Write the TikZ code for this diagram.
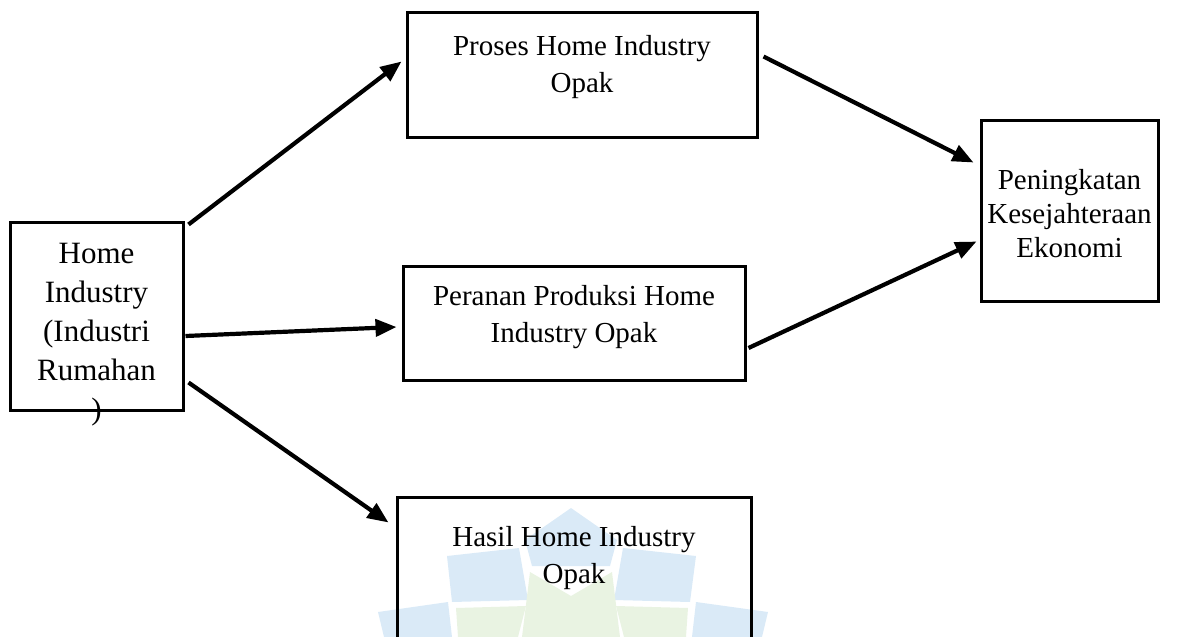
\documentclass[tikz,border=0pt]{standalone}
\usepackage{fontspec}
\setmainfont{Liberation Serif}
\usetikzlibrary{arrows.meta,calc}
\definecolor{wmblue}{RGB}{218,234,247}
\definecolor{wmgreen}{RGB}{233,243,226}
\begin{document}
\begin{tikzpicture}[x=1pt,y=-1pt,
    box/.style={draw,line width=3pt,inner sep=0pt},
    txt/.style={align=center,anchor=base,inner sep=0pt,font=\fontsize{29}{37}\selectfont},
    arr/.style={line width=4.2pt,-{Triangle[length=21pt,width=17pt]}}]
  \useasboundingbox (0,0) rectangle (1195,637);
  \clip (0,0) rectangle (1195,637);
  % faint logo behind the lower box
  \fill[wmblue] (571,508) -- (617,540) -- (610,566) -- (532,566) -- (525,540) -- cycle;
  \fill[wmblue] (447,556) -- (519,548) -- (528,600) -- (452,602) -- cycle;
  \fill[wmblue] (623,548) -- (696,556) -- (690,602) -- (614,600) -- cycle;
  \fill[wmblue] (378,612) -- (448,602) -- (452,637) -- (384,637) -- cycle;
  \fill[wmblue] (696,602) -- (768,612) -- (762,637) -- (692,637) -- cycle;
  \fill[wmgreen] (530,572) -- (571,596) -- (612,572) -- (620,637) -- (522,637) -- cycle;
  \fill[wmgreen] (456,608) -- (526,606) -- (518,637) -- (458,637) -- cycle;
  \fill[wmgreen] (616,606) -- (688,608) -- (686,637) -- (624,637) -- cycle;
  % boxes
  \node[box,minimum width=173pt,minimum height=188pt] (home) at (96.5,316) {};
  \node[box,minimum width=350pt,minimum height=125pt] (proc) at (582,74.5) {};
  \node[box,minimum width=342pt,minimum height=114pt] (peran) at (574,323) {};
  \node[box,minimum width=354pt,minimum height=153pt] (hasil) at (574,573.5) {};
  \node[box,minimum width=177pt,minimum height=181pt] (naik) at (1069.5,210.5) {};
  % texts (placed at the baseline of the last line)
  \node[txt,font=\fontsize{31}{39}\selectfont] (hometxt) at (96.5,419) {Home\\Industry\\(Industri\\Rumahan\\)};
  \node[txt] (proctxt) at (582,92) {Proses Home Industry\\Opak};
  \node[txt] (perantxt) at (574,342) {Peranan Produksi Home\\Industry Opak};
  \node[txt] (hasiltxt) at (574,583) {Hasil Home Industry\\Opak};
  \node[txt,font=\fontsize{29}{34}\selectfont] (naiktxt) at (1069.5,257) {Peningkatan\\Kesejahteraan\\Ekonomi};
  % arrows
  \draw[arr] ($(home.north east)+(4,4)$) -- ($(proc.north west)+(-4,51)$);
  \draw[arr] ($(home.east)+(1,20)$) -- ($(peran.west)+(-5,4)$);
  \draw[arr] ($(home.south east)+(4,-29)$) -- ($(hasil.north west)+(-7,27)$);
  \draw[arr] ($(proc.north east)+(5,46)$) -- ($(naik.north west)+(-6,44)$);
  \draw[arr] ($(peran.east)+(2,25)$) -- ($(naik.north west)+(-3,123)$);
\end{tikzpicture}
\end{document}
